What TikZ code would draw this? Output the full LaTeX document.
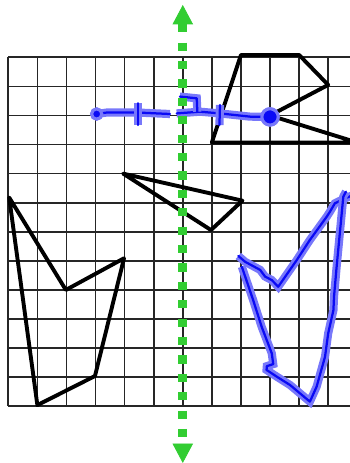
\documentclass[tikz,border=0pt]{standalone}
\usepackage{xcolor}
\usepackage{tikz}
\usetikzlibrary{arrows.meta}

\definecolor{axisgreen}{RGB}{50,205,50}
\definecolor{penblue}{RGB}{10,10,245}

\begin{document}
\begin{tikzpicture}[x=0.5cm, y=0.5cm,
    gridline/.style={black!85, line width=0.85pt},
    figline/.style={black, line width=1.9pt, line join=round, line cap=round},
    pen/.style={penblue, line width=1.1pt, line join=round, line cap=round,
                preaction={draw=penblue!55, line width=4pt}},
    dot/.style={circle, fill=penblue, inner sep=0pt, draw=penblue!55, line width=1.5pt},
    axis/.style={axisgreen, line width=4.5pt, dash pattern=on 4pt off 5pt,
                 {Triangle[width=10pt,length=9.5pt,line width=0.4pt]}-{Triangle[width=10pt,length=9.5pt,line width=0.4pt]}},
  ]
    \clip (-0.285,1.97) rectangle (11.75,-13.95);

    % grid
    \foreach \i in {0,...,11}
      \draw[gridline] (\i,0) -- (\i,-12);
    \foreach \j in {0,...,12}
      \draw[gridline] (0,-\j) -- (12,-\j);

    % black figures
    \draw[figline] (8,0.08) -- (10,0.08) -- (11,-0.95) -- (9,-2) -- (12,-2.93) -- (7,-2.93) -- cycle;
    \draw[figline] (3.95,-4) -- (8.05,-4.93) -- (6.97,-5.94) -- cycle;
    \draw[figline] (0.03,-4.82) -- (1.98,-8) -- (3.98,-6.91) -- (2.98,-10.96) -- (1,-11.96) -- cycle;

    % blue construction
    \node[dot, minimum size=5pt] (ldot) at (3.04,-1.95) {};
    \node[dot, minimum size=8pt] (rdot) at (9,-2.05) {};
    \draw[pen] (ldot.center) -- (3.38,-1.9) -- (3.95,-1.9) -- (4.47,-1.9) -- (5.56,-1.95);
    \draw[pen] (5.79,-1.93) -- (6.59,-1.87) -- (7.28,-1.93) -- (8.31,-2.04) -- (rdot.center);
    \draw[pen] (4.47,-1.58) -- (4.47,-2.33);
    \draw[pen] (7.28,-1.64) -- (7.26,-2.33);
    \draw[pen] (5.9,-1.35) -- (6.48,-1.41) -- (6.5,-1.87);
    \node[dot, minimum size=5pt] at (ldot) {};
    \node[dot, minimum size=8pt] at (rdot) {};

    \draw[pen] (7.91,-6.83) -- (8.14,-7.03) -- (8.66,-7.31) -- (8.83,-7.54) -- (9.06,-7.66)
      -- (9.28,-7.89) -- (9.92,-6.97) -- (10.37,-6.28) -- (10.95,-5.48) -- (11.06,-5.31)
      -- (11.23,-5.02) -- (11.58,-4.85) -- (11.9,-4.72);
    \draw[pen] (8.03,-7.2) -- (8.42,-8.35) -- (8.71,-9.26) -- (9.06,-10.18) -- (9.11,-10.55)
      -- (8.89,-10.62) -- (8.88,-10.75) -- (9.23,-10.98) -- (9.69,-11.27) -- (10.37,-11.84)
      -- (10.6,-11.33) -- (10.89,-10.3) -- (11,-9.49) -- (11.18,-8.69) -- (11.2,-8.23)
      -- (11.29,-7.2) -- (11.41,-5.94) -- (11.52,-4.79) -- (11.61,-4.62);

    % mirror line
    \coordinate (axtop) at (6,1.8);
    \coordinate (axbot) at (6,-13.95);
    \draw[axis] (axtop) -- (axbot);
  \end{tikzpicture}
\end{document}
